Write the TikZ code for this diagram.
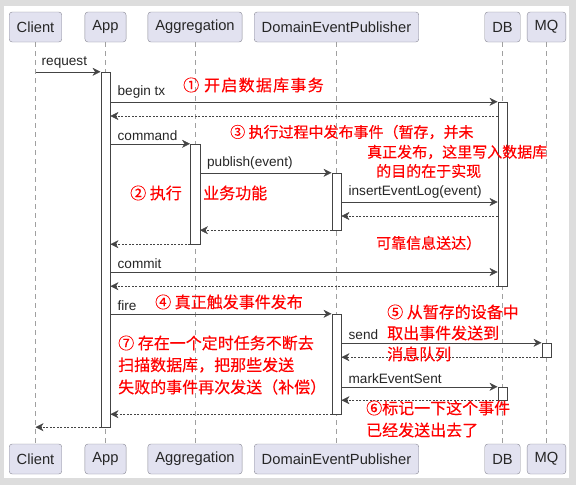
\documentclass[tikz,border=0pt]{standalone}
\usepackage{fontspec}
\setmainfont{Liberation Sans}
\newfontfamily\cjk[FakeBold=0.25]{Noto Sans CJK SC}
\usepackage{tikz}
\usetikzlibrary{arrows.meta,shapes}

\definecolor{partfill}{HTML}{E2E2F0}
\definecolor{partline}{HTML}{8A8A96}
\definecolor{lifegray}{HTML}{A0A0A0}
\definecolor{msgline}{HTML}{444444}
\definecolor{outside}{HTML}{DDDDDD}

\begin{document}
\begin{tikzpicture}[
    x=1pt, y=-1pt,
    participant/.style = {draw=partline, fill=partfill, rounded corners=3pt,
      minimum height=30pt, inner xsep=7.5pt, text=black!85,
      font=\fontsize{14.7}{16}\selectfont},
    life/.style = {draw=lifegray, dash pattern=on 5pt off 4pt},
    act/.style = {draw=msgline, fill=white, minimum width=9.5pt, inner sep=0pt},
    msg/.style = {draw=msgline, -{Stealth[length=8pt,width=8pt,inset=2.5pt]}},
    ret/.style = {msg, dash pattern=on 2pt off 1.5pt},
    lbl/.style = {above right, inner sep=0pt, xshift=7pt, yshift=3pt,
      text=black!85, font=\fontsize{13.6}{15}\selectfont},
    note/.style = {anchor=west, inner sep=0pt, text=red,
      font=\cjk\fontsize{16}{18}\selectfont},
    smallnote/.style = {note, font=\cjk\fontsize{15}{17}\selectfont}
  ]

  \useasboundingbox (0,0) rectangle (576,485);
  \fill[outside] (0,0) rectangle (576,485);
  \fill[white] (4,6) rectangle (569,478);

  % participants, top and bottom
  \node[participant] (client) at (35.5,27) {Client};
  \node[participant] (app) at (105.5,27) {App};
  \node[participant] (agg) at (195,27) {Aggregation};
  \node[participant] (pub) at (336.5,27) {DomainEventPublisher};
  \node[participant] (db) at (502.5,27) {DB};
  \node[participant] (mq) at (546.5,27) {MQ};

  \node[participant] (client2) at (35.5,459) {Client};
  \node[participant] (app2) at (105.5,459) {App};
  \node[participant] (agg2) at (195,459) {Aggregation};
  \node[participant] (pub2) at (336.5,459) {DomainEventPublisher};
  \node[participant] (db2) at (502.5,459) {DB};
  \node[participant] (mq2) at (546.5,459) {MQ};

  \foreach \p in {client,app,agg,pub,db,mq}
    \draw[life] (\p.south) -- (\p2.north);

  % activations
  \node[act, minimum height=355pt] (actApp) at (app |- 0,249.5) {};
  \node[act, minimum height=100pt] (actAgg) at (agg |- 0,194) {};
  \node[act, minimum height=57pt] (actPub1) at (pub |- 0,201.5) {};
  \node[act, minimum height=184pt] (actDB1) at (db |- 0,194) {};
  \node[act, minimum height=100pt] (actPub2) at (pub |- 0,364) {};
  \node[act, minimum height=14pt] (actMQ) at (mq |- 0,350) {};
  \node[act, minimum height=13pt] (actDB2) at (db |- 0,393.5) {};

  % messages
  \draw[msg] (client |- actApp.north) -- (actApp.north west) node[lbl, pos=0, xshift=-1pt] {request};
  \draw[msg] (actApp.east |- actDB1.north) -- (actDB1.north west) node[lbl, pos=0] {begin tx};
  \draw[ret] (actDB1.west |- 0,116) -- (actApp.east |- 0,116);
  \draw[msg] (actApp.east |- actAgg.north) -- (actAgg.north west) node[lbl, pos=0] {command};
  \draw[msg] (actAgg.east |- actPub1.north) -- (actPub1.north west) node[lbl, pos=0] {publish(event)};
  \draw[msg] (actPub1.east |- 0,202) -- (actDB1.west |- 0,202) node[lbl, pos=0] {insertEventLog(event)};
  \draw[ret] (actDB1.west |- 0,216) -- (actPub1.east |- 0,216);
  \draw[ret] (actPub1.south west) -- (actAgg.east |- actPub1.south);
  \draw[ret] (actAgg.south west) -- (actApp.east |- actAgg.south);
  \draw[msg] (actApp.east |- 0,272) -- (actDB1.west |- 0,272) node[lbl, pos=0] {commit};
  \draw[ret] (actDB1.south west) -- (actApp.east |- actDB1.south);
  \draw[msg] (actApp.east |- actPub2.north) -- (actPub2.north west) node[lbl, pos=0] {fire};
  \draw[msg] (actPub2.east |- actMQ.north) -- (actMQ.north west) node[lbl, pos=0] {send};
  \draw[ret] (actMQ.south west) -- (actPub2.east |- actMQ.south);
  \draw[msg] (actPub2.east |- actDB2.north) -- (actDB2.north west) node[lbl, pos=0] {markEventSent};
  \draw[ret] (actDB2.south west) -- (actPub2.east |- actDB2.south);
  \draw[ret] (actPub2.south west) -- (actApp.east |- actPub2.south);
  \draw[ret] (actApp.south west) -- (client |- actApp.south);

  % red notes
  \node[note, font=\cjk\fontsize{16}{18}\selectfont\addfontfeature{LetterSpace=8}] (n1) at (183,85) {① 开启数据库事务};

  \node[smallnote] (n3a) at (230,132) {③ 执行过程中发布事件（暂存，并未};
  \node[smallnote] (n3b) at (367,152) {真正发布，这里写入数据库};
  \node[smallnote] (n3c) at (376,171) {的目的在于实现};
  \node[smallnote] (n3d) at (376,243) {可靠信息送达）};

  \node[note] (n2a) at (130,193) {② 执行};
  \node[note] (n2b) at (203,193) {业务功能};

  \node[note] (n4) at (155,302) {④ 真正触发事件发布};

  \node[note] (n5a) at (387,312) {⑤ 从暂存的设备中};
  \node[note] (n5b) at (387,333) {取出事件发送到};
  \node[note] (n5c) at (387,354) {消息队列};

  \node[note] (n7a) at (118,343) {⑦ 存在一个定时任务不断去};
  \node[note] (n7b) at (118,365) {扫描数据库，把那些发送};
  \node[note] (n7c) at (118,387) {失败的事件再次发送（补偿）};

  \node[note] (n6a) at (366,408) {⑥标记一下这个事件};
  \node[note] (n6b) at (366,430) {已经发送出去了};

\end{tikzpicture}
\end{document}
